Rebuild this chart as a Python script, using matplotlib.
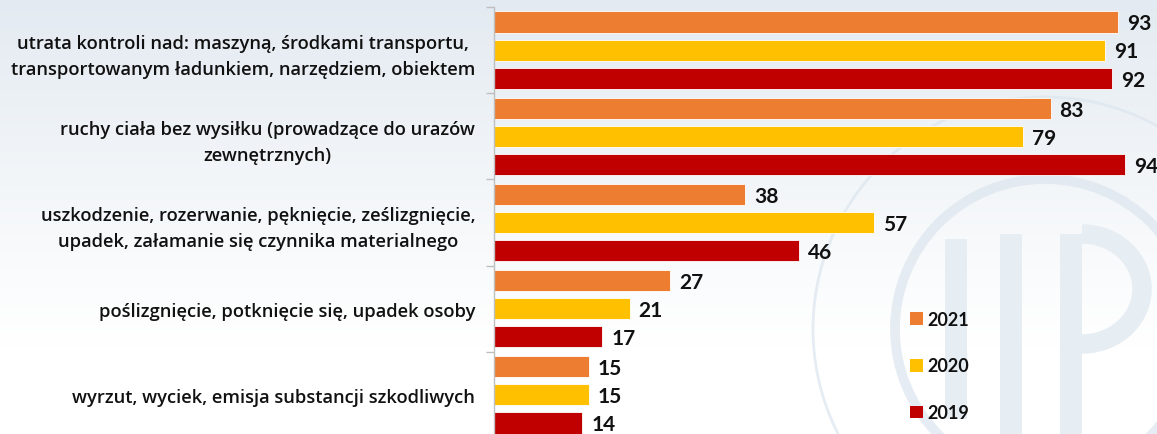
import numpy as np
import matplotlib
matplotlib.use("Agg")
import matplotlib.pyplot as plt
from matplotlib.patches import Patch, Circle, Rectangle, Arc

categories = [
    "utrata kontroli nad: maszyną, środkami transportu,\ntransportowanym ładunkiem, narzędziem, obiektem",
    "ruchy ciała bez wysiłku (prowadzące do urazów\nzewnętrznych)",
    "uszkodzenie, rozerwanie, pęknięcie, ześlizgnięcie,\nupadek, załamanie się czynnika materialnego",
    "poślizgnięcie, potknięcie się, upadek osoby",
    "wyrzut, wyciek, emisja substancji szkodliwych",
]
series_names = ["2021", "2020", "2019"]
values_2021 = [93, 83, 38, 27, 15]
values_2020 = [91, 79, 57, 21, 15]
values_2019 = [92, 94, 46, 17, 14]
series_values = [values_2021, values_2020, values_2019]
colors = ["#ED7D31", "#FFC000", "#C00000"]

W, H = 1157, 435
fig = plt.figure(figsize=(W / 100, H / 100), dpi=100)
fig.patch.set_facecolor("white")

# background gradient + faint watermark (shapes only)
bg = fig.add_axes([0, 0, 1, 1], zorder=-10)
yy, xx = np.mgrid[0:H, 0:W]
t = np.clip(1 - yy / H * 1.25, 0, 1) ** 1.1
base = np.array([0.89, 0.918, 0.945])
img = 1 - (1 - base)[None, None, :] * t[:, :, None]
bg.imshow(img, extent=(0, W, H, 0), aspect="auto", interpolation="bilinear")
ring_col = "#DCE5EE"
bg.add_patch(Circle((1045, 330), 150, fill=False, lw=7, ec=ring_col, alpha=0.7))
bg.add_patch(Circle((1045, 330), 232, fill=False, lw=2, ec=ring_col, alpha=0.7))
wm = "#E6EDF3"
bg.add_patch(Rectangle((945, 240), 22, 180, fc=wm, ec="none"))
bg.add_patch(Rectangle((1000, 235), 22, 200, fc=wm, ec="none"))
bg.add_patch(Rectangle((1060, 235), 22, 200, fc=wm, ec="none"))
bg.add_patch(Arc((1082, 290), 120, 110, theta1=-90, theta2=90, lw=14, ec=wm))
bg.set_xlim(0, W)
bg.set_ylim(H, 0)
bg.axis("off")

# main axes
x0_px = 494
top_px, bot_px = 8, 439
ax = fig.add_axes([x0_px / W, 1 - bot_px / H, 1 - x0_px / W, (bot_px - top_px) / H])
ax.patch.set_alpha(0)

px_per_unit = 6.79
xmin = (x0_px - 487) / px_per_unit
xmax = (W - 487) / px_per_unit
ax.set_xlim(xmin, xmax)
ax.set_ylim(len(categories) - 0.5, -0.5)

offsets = [-0.326, 0.0, 0.326]
bar_h = 0.245
y = np.arange(len(categories))
for vals, off, col in zip(series_values, offsets, colors):
    ax.barh(y + off, vals, height=bar_h, color=col, edgecolor="white",
            linewidth=0.6)
    for yi, v in zip(y + off, vals):
        ax.annotate(str(v), (v, yi), xytext=(6.5, -1), textcoords="offset points",
                    ha="left", va="center", fontsize=15, fontweight="bold",
                    color="#111111", family="Lato", annotation_clip=False)

for s in ["top", "right", "bottom"]:
    ax.spines[s].set_visible(False)
ax.spines["left"].set_color("#BFBFBF")
ax.spines["left"].set_linewidth(1.0)
ax.set_xticks([])

ax.set_yticks(np.arange(-0.5, len(categories) + 0.5, 1.0))
ax.set_yticklabels([])
ax.tick_params(axis="y", which="major", length=6, color="#BFBFBF", width=1)
ax.set_yticks(y, minor=True)
ax.set_yticklabels(categories, minor=True)
ax.tick_params(axis="y", which="minor", length=0, pad=13.5)
for lab in ax.get_yticklabels(minor=True):
    lab.set_family("Open Sans")
    lab.set_fontweight("semibold")
    lab.set_fontsize(13.2)
    lab.set_color("#111111")
    lab.set_multialignment("center")
    lab.set_linespacing(1.55)

handles = [Patch(facecolor=c, edgecolor="none") for c in colors]
leg = fig.legend(handles, series_names, loc="center left",
                 bbox_to_anchor=(901 / W, 1 - 367 / H), frameon=False,
                 borderpad=0, handlelength=0.7, handleheight=0.7,
                 handletextpad=0.25, labelspacing=1.65,
                 prop={"family": "Lato", "weight": "bold", "size": 13})
for txt in leg.get_texts():
    txt.set_color("#111111")

fig.savefig("out.png", dpi=100)
